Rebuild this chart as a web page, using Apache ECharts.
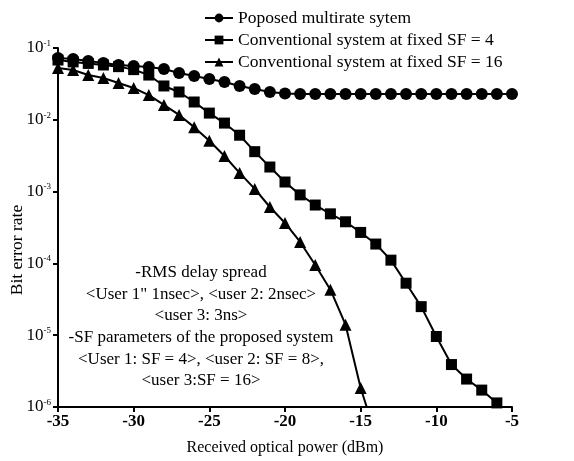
<!DOCTYPE html>
<html>
<head>
<meta charset="utf-8">
<title>BER vs received optical power</title>
<script src="https://cdn.jsdelivr.net/npm/echarts@6/dist/echarts.min.js"></script>
<style>
  html, body { margin: 0; padding: 0; background: #fff; }
  #chart { width: 574px; height: 461px; }
</style>
</head>
<body>
<div id="chart"></div>
<script>
// received optical power (dBm)
var powerProposed = [-35,-34,-33,-32,-31,-30,-29,-28,-27,-26,-25,-24,-23,-22,-21,-20,-19,-18,-17,-16,-15,-14,-13,-12,-11,-10,-9,-8,-7,-6,-5];
var berProposed = [0.0726,0.0703,0.0659,0.0618,0.058,0.056,0.0543,0.051,0.0449,0.0407,0.037,0.0336,0.0296,0.0268,0.0244,0.0232,0.0229,0.0229,0.0229,0.0229,0.0229,0.0229,0.0229,0.0229,0.0229,0.0229,0.0229,0.0229,0.0229,0.0229,0.0229];

var powerSF4 = [-35,-34,-33,-32,-31,-30,-29,-28,-27,-26,-25,-24,-23,-22,-21,-20,-19,-18,-17,-16,-15,-14,-13,-12,-11,-10,-9,-8,-7,-6];
var berSF4 = [0.068,0.064,0.061,0.058,0.055,0.05,0.042,0.0296,0.0244,0.0177,0.0124,0.009,0.0061,0.0036,0.0022,0.00136,0.0009,0.00065,0.00049,0.00038,0.00027,0.000186,0.000111,5.3e-5,2.5e-5,9.6e-6,3.9e-6,2.45e-6,1.72e-6,1.14e-6];

var powerSF16 = [-35,-34,-33,-32,-31,-30,-29,-28,-27,-26,-25,-24,-23,-22,-21,-20,-19,-18,-17,-16,-15,-14.6];
var berSF16 = [0.0526,0.0494,0.0421,0.0382,0.0326,0.0277,0.0221,0.0161,0.0117,0.0079,0.0051,0.00313,0.00182,0.00109,0.00061,0.000366,0.000199,9.5e-5,4.3e-5,1.4e-5,1.84e-6,1e-6];

var seriesNames = ['Poposed multirate sytem', 'Conventional system at fixed SF = 4', 'Conventional system at fixed SF = 16'];

var noteLines = [
  '-RMS delay spread',
  '<User 1" 1nsec>, <user 2: 2nsec>',
  '<user 3: 3ns>',
  '-SF parameters of the proposed system',
  '<User 1: SF = 4>, <user 2: SF = 8>,',
  '<user 3:SF = 16>'
];

function pairs(xs, ys) {
  return xs.map(function (x, i) { return [x, ys[i]]; });
}

var serif = '"Liberation Serif", "DejaVu Serif", serif';

var chart = echarts.init(document.getElementById('chart'));

// last SF=16 point is where the curve meets the bottom axis, no marker there
var sf16 = pairs(powerSF16, berSF16);
sf16[sf16.length - 1] = { value: sf16[sf16.length - 1], symbol: 'none' };

var lineBase = { type: 'line', color: '#000', lineStyle: { color: '#000', width: 2 }, itemStyle: { color: '#000' }, animation: false };

chart.setOption({
  backgroundColor: '#fff',
  grid: { left: 58, top: 48, width: 454, height: 359 },
  legend: {
    orient: 'vertical',
    left: 199,
    top: 4,
    itemWidth: 28,
    itemHeight: 11,
    itemGap: 4,
    textStyle: { fontFamily: serif, fontSize: 17.5, color: '#000' },
    data: seriesNames
  },
  xAxis: {
    type: 'value',
    min: -35, max: -5, interval: 5,
    name: 'Received optical power (dBm)',
    nameLocation: 'middle',
    nameGap: 33,
    nameTextStyle: { fontFamily: serif, fontSize: 16, color: '#000' },
    axisLine: { lineStyle: { color: '#000', width: 2 } },
    axisTick: { lineStyle: { color: '#000', width: 2 }, length: 5 },
    axisLabel: { fontFamily: serif, fontSize: 17, fontWeight: 'bold', color: '#000', margin: 6 },
    splitLine: { show: false }
  },
  yAxis: {
    type: 'log',
    logBase: 10,
    min: 1e-6, max: 0.1,
    axisLine: { show: true, lineStyle: { color: '#000', width: 2 } },
    axisTick: { show: true, lineStyle: { color: '#000', width: 2 }, length: 5 },
    axisLabel: {
      margin: 7,
      color: '#000',
      formatter: function (v) {
        return '{b|10}{s|' + Math.round(Math.log10(v)) + '}';
      },
      rich: {
        b: { fontFamily: serif, fontSize: 17, color: '#000' },
        s: { fontFamily: serif, fontSize: 9, color: '#000', verticalAlign: 'top', padding: [0, 0, 9, 0] }
      }
    },
    splitLine: { show: false }
  },
  graphic: [{
    type: 'text',
    x: 17,
    y: 250,
    rotation: Math.PI / 2,
    style: {
      text: 'Bit error rate',
      fontFamily: serif,
      fontSize: 17.5,
      fill: '#000',
      align: 'center',
      verticalAlign: 'middle'
    }
  }, {
    type: 'text',
    x: 201,
    y: 262,
    style: {
      text: noteLines.join('\n'),
      fontFamily: serif,
      fontSize: 17,
      lineHeight: 21.6,
      fill: '#000',
      align: 'center',
      verticalAlign: 'top'
    }
  }],
  series: [
    Object.assign({}, lineBase, { name: seriesNames[0], symbol: 'circle', symbolSize: 12, data: pairs(powerProposed, berProposed), z: 3 }),
    Object.assign({}, lineBase, { name: seriesNames[1], symbol: 'rect', symbolSize: 11, data: pairs(powerSF4, berSF4), z: 2 }),
    Object.assign({}, lineBase, { name: seriesNames[2], symbol: 'triangle', symbolSize: 12, data: sf16, z: 1 })
  ]
});
</script>
</body>
</html>
